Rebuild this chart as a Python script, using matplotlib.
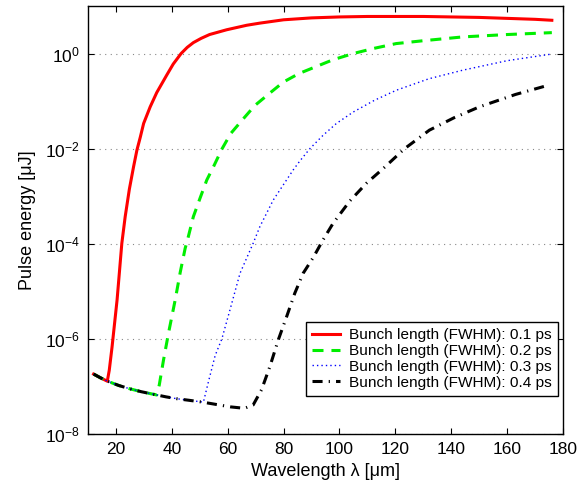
import numpy as np
import matplotlib
matplotlib.use("Agg")
import matplotlib.pyplot as plt
from matplotlib.ticker import NullLocator, FixedLocator

plt.rcParams['font.family'] = ['Liberation Sans', 'DejaVu Sans']
plt.rcParams['mathtext.fontset'] = 'custom'
plt.rcParams['mathtext.rm'] = 'Liberation Sans'
plt.rcParams['mathtext.it'] = 'Liberation Sans:italic'

# wavelength [um] and log10(pulse energy [uJ])
x_01 = [12, 14.5, 16.9, 17.6, 18.6, 20.4, 22.1, 23.3, 24.8, 26.3, 27.5, 28.7, 29.9, 32.25,
        34.6, 38.2, 40.5, 43.3, 45.5, 47.7, 50.5, 53.5, 59.6, 66.8, 71.5, 80, 90, 100, 110,
        120, 130, 140, 150, 160, 170, 176]
ly_01 = [-6.74, -6.82, -6.89, -6.66, -6.17, -5.18, -3.99, -3.43, -2.85, -2.38, -2.03, -1.76,
         -1.47, -1.12, -0.82, -0.45, -0.22, 0.0, 0.13, 0.23, 0.32, 0.40, 0.50, 0.595, 0.64,
         0.71, 0.75, 0.77, 0.78, 0.78, 0.78, 0.77, 0.76, 0.74, 0.72, 0.70]

x_02 = [12, 14.5, 17, 21, 25, 29, 33, 34.6, 35.5, 37.0, 38.8, 41.2, 43.0, 44.75, 45.9,
        47.7, 50.1, 52.5, 54.9, 57.9, 61.1, 65.6, 69.75, 75.1, 79.9, 85.5, 91.8, 97.7,
        104.9, 112.0, 120.3, 130, 144.1, 160, 176]
ly_02 = [-6.74, -6.82, -6.89, -6.98, -7.05, -7.11, -7.16, -7.18, -6.97, -6.45, -5.88, -5.18,
         -4.6, -4.1, -3.85, -3.43, -3.04, -2.66, -2.38, -2.01, -1.68, -1.37, -1.09, -0.83,
         -0.60, -0.42, -0.27, -0.13, 0.0, 0.105, 0.21, 0.27, 0.35, 0.40, 0.44]

x_03 = [12, 14.5, 17, 21, 25, 29, 33, 38, 42, 46, 51.3, 53.1, 55.5, 57.9, 60.8, 64.4,
        69.1, 71.5, 73.9, 76.3, 79.9, 83.4, 85.8, 89.4, 94.1, 98.9, 104.9, 112.6, 120.4,
        132, 144.1, 160, 176]
ly_03 = [-6.74, -6.82, -6.89, -6.98, -7.05, -7.11, -7.16, -7.22, -7.26, -7.29, -7.33, -6.90,
         -6.35, -6.0, -5.39, -4.62, -3.99, -3.64, -3.36, -3.08, -2.76, -2.45, -2.26, -2.0,
         -1.72, -1.47, -1.23, -0.98, -0.77, -0.53, -0.35, -0.15, -0.01]

x_04 = [12, 14.5, 17, 21, 25, 29, 33, 38, 42, 46, 51, 56, 61, 66, 69.1, 72.1, 75.1, 78.1,
        81.1, 84.0, 87.0, 90.6, 94.1, 97.7, 103.7, 109.6, 115.6, 123.3, 132.2, 141, 150.1,
        163, 174.5]
ly_04 = [-6.74, -6.82, -6.89, -6.98, -7.05, -7.11, -7.16, -7.22, -7.26, -7.29, -7.33, -7.38,
         -7.43, -7.46, -7.39, -7.07, -6.58, -6.02, -5.53, -5.04, -4.62, -4.29, -3.92, -3.57,
         -3.10, -2.73, -2.42, -2.0, -1.61, -1.35, -1.12, -0.86, -0.67]

labels = ['Bunch length (FWHM): 0.1 ps', 'Bunch length (FWHM): 0.2 ps',
          'Bunch length (FWHM): 0.3 ps', 'Bunch length (FWHM): 0.4 ps']
xticks = [20, 40, 60, 80, 100, 120, 140, 160, 180]
yticks = [1e-8, 1e-6, 1e-4, 1e-2, 1e0]

fig = plt.figure(figsize=(5.88, 4.92), dpi=100)
ax = fig.add_axes([0.1497, 0.1179, 0.8078, 0.8699])

ax.plot(x_01, 10 ** np.array(ly_01), color='#ff0000', lw=2.2, ls='-', label=labels[0])
ax.plot(x_02, 10 ** np.array(ly_02), color='#00ee00', lw=2.2, ls=(0, (3.6, 2.6)), label=labels[1])
ax.plot(x_03, 10 ** np.array(ly_03), color='#0000ff', lw=1.0, ls=(0, (1, 2.2)), label=labels[2])
ax.plot(x_04, 10 ** np.array(ly_04), color='#000000', lw=2.2, ls=(0, (3.3, 2.0, 0.4, 2.0)), label=labels[3])

ax.set_yscale('log')
ax.set_xlim(10, 180)
ax.set_ylim(1e-8, 1e1)
ax.xaxis.set_major_locator(FixedLocator(xticks))
ax.yaxis.set_major_locator(FixedLocator(yticks))
ax.yaxis.set_minor_locator(NullLocator())
ax.xaxis.set_minor_locator(NullLocator())
ax.tick_params(axis='both', which='major', direction='in', top=True, right=True,
               labelsize=12.5, length=4, width=0.8, pad=6)
ax.yaxis.grid(True, which='major', color='#888888', ls=(0, (1, 4)), lw=0.8)
for s in ax.spines.values():
    s.set_linewidth(1.0)

ax.set_xlabel('Wavelength λ [μm]', fontsize=13, labelpad=4)
ax.set_ylabel('Pulse energy [μJ]', fontsize=13, labelpad=6)

leg = ax.legend(loc='lower right', bbox_to_anchor=(0.989, 0.089), fontsize=11.1, frameon=True,
                fancybox=False, edgecolor='black', framealpha=1, borderpad=0.4,
                labelspacing=0.12, handlelength=1.8, handletextpad=0.6, borderaxespad=0)
leg.get_frame().set_linewidth(1.0)

fig.savefig('out.png', dpi=100)
